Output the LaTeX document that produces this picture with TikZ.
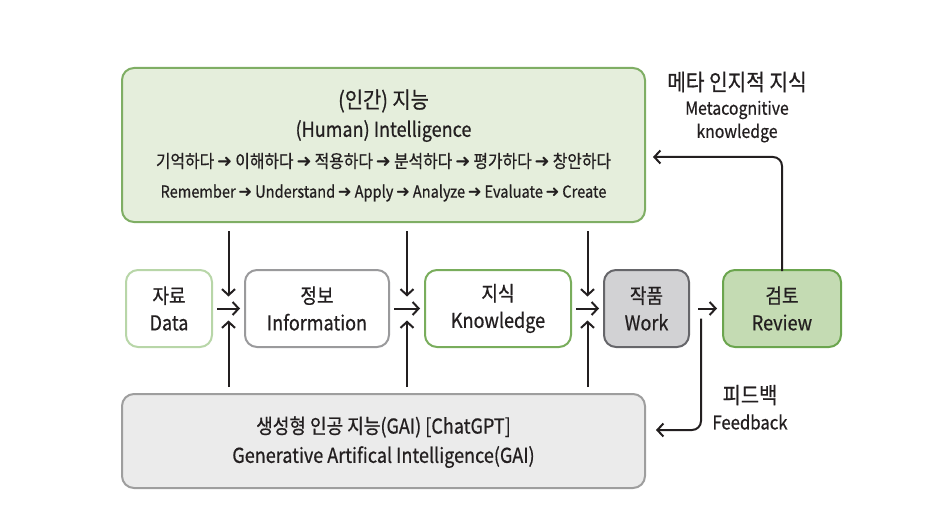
\documentclass[tikz,border=0pt]{standalone}
\usepackage{fontspec}
\usepackage{tikz}
\usetikzlibrary{arrows.meta,calc}
\setmainfont{Noto Sans CJK KR}[FakeStretch=0.88,FakeBold=0.6]
\newfontfamily\arrowfont{DejaVu Sans}

\definecolor{inktext}{HTML}{231F20}
\definecolor{humanfill}{HTML}{E5EEDC}
\definecolor{humanline}{HTML}{7FAE64}
\definecolor{dataline}{HTML}{B8D6A8}
\definecolor{infoline}{HTML}{9A9A9C}
\definecolor{knowline}{HTML}{79AD5C}
\definecolor{workfill}{HTML}{D2D2D4}
\definecolor{workline}{HTML}{66666A}
\definecolor{reviewfill}{HTML}{C4DBB3}
\definecolor{reviewline}{HTML}{6BA54E}
\definecolor{gaifill}{HTML}{EBEBEB}
\definecolor{gailine}{HTML}{9E9E9E}

\newcommand{\chainarrow}{\,{\arrowfont\bfseries\char"279C}\,}

\tikzset{
  box/.style={rounded corners=12pt, line width=2pt, minimum height=77pt,
    align=center, text=inktext, font=\fontsize{20.5}{27}\selectfont},
  flow/.style={line width=2pt, draw=inktext,
    -{Straight Barb[length=6pt,width=13pt,line width=2pt]}},
  lbl/.style={text=inktext, inner sep=0pt}
}

\begin{document}
\begin{tikzpicture}[x=1pt,y=-1pt]
  \useasboundingbox (0,0) rectangle (936,513);

  % big boxes
  \node[box, draw=humanline, fill=humanfill, minimum width=523pt, minimum height=154pt] (human) at (383.5,145) {};
  \node[box, draw=gailine, fill=gaifill, minimum width=523pt, minimum height=94pt] (gai) at (383.5,441) {};

  \node[lbl, font=\fontsize{22.5}{24}\selectfont] (humanko) at (383.5,101) {(인간) 지능};
  \node[lbl, font=\fontsize{20.5}{22}\selectfont] (humanen) at (383.5,131) {(Human) Intelligence};
  \node[lbl, font=\fontsize{18}{20}\selectfont] (chainko) at (383.5,161)
    {기억하다\chainarrow 이해하다\chainarrow 적용하다\chainarrow 분석하다\chainarrow 평가하다\chainarrow 창안하다};
  \node[lbl, font=\fontsize{16.6}{18}\selectfont] (chainen) at (383.5,193)
    {Remember\chainarrow Understand\chainarrow Apply\chainarrow Analyze\chainarrow Evaluate\chainarrow Create};

  \node[lbl, font=\fontsize{20.5}{22}\selectfont] (gaiko) at (383.5,427) {생성형 인공 지능(GAI) [ChatGPT]};
  \node[lbl, font=\fontsize{20.5}{22}\selectfont] (gaien) at (383.5,457) {Generative Artifical Intelligence(GAI)};

  % row of boxes
  \node[box, draw=dataline, fill=white, minimum width=86pt] (data) at (169,308.5) {자료\\Data};
  \node[box, draw=infoline, fill=white, minimum width=144pt] (info) at (317,308.5) {정보\\Information};
  \node[box, draw=knowline, fill=white, minimum width=146pt] (know) at (498,308.5) {지식\\Knowledge};
  \node[box, draw=workline, fill=workfill, minimum width=85pt] (work) at (646.5,308.5) {작품\\Work};
  \node[box, draw=reviewline, fill=reviewfill, minimum width=118pt] (review) at (782,308.5) {검토\\Review};

  % junctions between boxes
  \coordinate (j1) at ($(data.east)!0.5!(info.west)$);
  \coordinate (j2) at ($(info.east)!0.5!(know.west)$);
  \coordinate (j3) at ($(know.east)!0.5!(work.west)$);

  \foreach \j/\a/\b in {j1/data/info, j2/info/know, j3/know/work}{
    \draw[flow] ([yshift=-8pt]\j |- human.south) -- ([yshift=12pt]\j);
    \draw[flow] ([yshift=6pt]\j |- gai.north) -- ([yshift=-12pt]\j);
    \draw[flow] ([xshift=4pt]\a.east) -- ([xshift=-4pt]\b.west);
  }
  \draw[flow] ([xshift=8pt]work.east) -- ([xshift=-5pt]review.west);

  % feedback and metacognition
  \coordinate (fbstart) at ([xshift=11pt,yshift=-10pt]work.east);
  \draw[flow, rounded corners=9pt] (fbstart) |- ([xshift=10pt,yshift=11pt]gai.east);
  \draw[flow, rounded corners=9pt] ([yshift=-2pt]review.north) |- ([xshift=7pt,yshift=-12pt]human.east);

  \node[lbl, font=\fontsize{23}{24}\selectfont] (metako) at (737,82) {메타 인지적 지식};
  \node[lbl, font=\fontsize{18}{20}\selectfont] (metaen) at (737,110) {Metacognitive};
  \node[lbl, font=\fontsize{18}{20}\selectfont] (metaen2) at (737,133) {knowledge};
  \node[lbl, font=\fontsize{22.5}{24}\selectfont] (fbko) at (750,395) {피드백};
  \node[lbl, font=\fontsize{19}{20}\selectfont] (fben) at (750,422) {Feedback};
\end{tikzpicture}
\end{document}
